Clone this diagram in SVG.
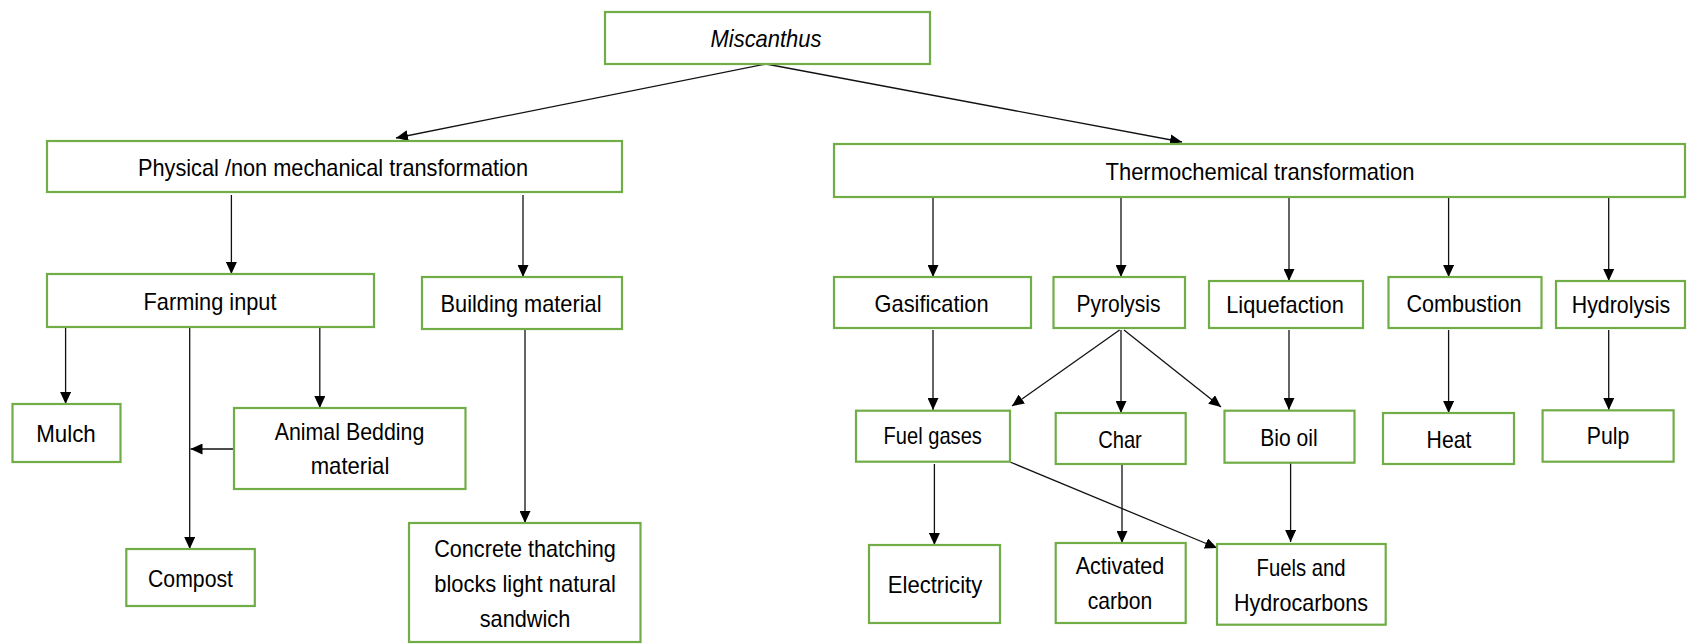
<svg xmlns="http://www.w3.org/2000/svg" width="1687" height="644" viewBox="0 0 1687 644">
<style>
.b{fill:#fff;stroke:#70AD47;stroke-width:2.2}
.t{font-family:"Liberation Sans",Arial,sans-serif;font-size:24px;fill:#000;text-anchor:middle}
.c line{stroke:#111;stroke-width:1.3;marker-end:url(#ah)}
</style>
<defs>
<marker id="ah" markerUnits="userSpaceOnUse" markerWidth="12" markerHeight="11" refX="12" refY="5.5" orient="auto"><path d="M0,0 L12,5.5 L0,11 z" fill="#000"/></marker>
</defs>
<rect width="1687" height="644" fill="#fff"/>
<g class="c" id="connectors">
<line x1="766" y1="64" x2="396" y2="138"/>
<line x1="766" y1="64" x2="1182" y2="142"/>
<line x1="231.4" y1="195" x2="231.4" y2="274"/>
<line x1="523" y1="195" x2="523" y2="277"/>
<line x1="933" y1="197" x2="933" y2="277"/>
<line x1="1121" y1="197" x2="1121" y2="277"/>
<line x1="1289" y1="197" x2="1289" y2="281"/>
<line x1="1448.6" y1="197" x2="1448.6" y2="277"/>
<line x1="1608.7" y1="197" x2="1608.7" y2="281"/>
<line x1="65.6" y1="327" x2="65.6" y2="404"/>
<line x1="189.7" y1="327" x2="189.7" y2="549"/>
<line x1="319.8" y1="327" x2="319.8" y2="408"/>
<line x1="234" y1="449" x2="190.5" y2="449"/>
<line x1="525" y1="330" x2="525" y2="523"/>
<line x1="933" y1="330" x2="933" y2="410"/>
<line x1="1119.6" y1="330" x2="1012" y2="406"/>
<line x1="1121" y1="330" x2="1121" y2="413"/>
<line x1="1124" y1="330" x2="1221" y2="407"/>
<line x1="1289" y1="330" x2="1289" y2="410"/>
<line x1="1448.6" y1="330" x2="1448.6" y2="413"/>
<line x1="1608.7" y1="330" x2="1608.7" y2="410"/>
<line x1="934.4" y1="464" x2="934.4" y2="545"/>
<line x1="1122" y1="464" x2="1122" y2="543"/>
<line x1="1010" y1="462" x2="1217" y2="548"/>
<line x1="1290.6" y1="463" x2="1290.6" y2="542"/>
</g>
<g id="miscanthus"><rect class="b" x="605" y="12" width="325" height="52"/><text class="t" x="766" y="46.7" font-style="italic" textLength="111" lengthAdjust="spacingAndGlyphs">Miscanthus</text></g>
<g id="physical"><rect class="b" x="47" y="141" width="575" height="51"/><text class="t" x="333" y="176" textLength="390" lengthAdjust="spacingAndGlyphs">Physical /non mechanical transformation</text></g>
<g id="thermochemical"><rect class="b" x="834" y="144" width="851" height="53"/><text class="t" x="1260" y="180" textLength="309" lengthAdjust="spacingAndGlyphs">Thermochemical transformation</text></g>
<g id="farming"><rect class="b" x="47" y="274" width="327" height="53"/><text class="t" x="210" y="310" textLength="133" lengthAdjust="spacingAndGlyphs">Farming input</text></g>
<g id="building"><rect class="b" x="422" y="277" width="200" height="52"/><text class="t" x="521" y="311.7" textLength="161" lengthAdjust="spacingAndGlyphs">Building material</text></g>
<g id="gasification"><rect class="b" x="834" y="277" width="197" height="51"/><text class="t" x="931.6" y="311.7" textLength="114" lengthAdjust="spacingAndGlyphs">Gasification</text></g>
<g id="pyrolysis"><rect class="b" x="1053.5" y="277" width="131.5" height="51"/><text class="t" x="1118.5" y="311.7" textLength="84" lengthAdjust="spacingAndGlyphs">Pyrolysis</text></g>
<g id="liquefaction"><rect class="b" x="1209" y="281" width="154" height="47"/><text class="t" x="1285" y="313.3" textLength="117.5" lengthAdjust="spacingAndGlyphs">Liquefaction</text></g>
<g id="combustion"><rect class="b" x="1388.5" y="277" width="153" height="51"/><text class="t" x="1464" y="311.7" textLength="115" lengthAdjust="spacingAndGlyphs">Combustion</text></g>
<g id="hydrolysis"><rect class="b" x="1556" y="281" width="129" height="47"/><text class="t" x="1621" y="313.3" textLength="98.4" lengthAdjust="spacingAndGlyphs">Hydrolysis</text></g>
<g id="mulch"><rect class="b" x="12.5" y="404" width="108" height="58"/><text class="t" x="66" y="442.3" textLength="59.6" lengthAdjust="spacingAndGlyphs">Mulch</text></g>
<g id="animal"><rect class="b" x="234" y="408" width="231.5" height="81"/><text class="t" x="349.5" y="440" textLength="149.6" lengthAdjust="spacingAndGlyphs">Animal Bedding</text><text class="t" x="350" y="474.3" textLength="78.6" lengthAdjust="spacingAndGlyphs">material</text></g>
<g id="compost"><rect class="b" x="126.3" y="549" width="128.5" height="57"/><text class="t" x="190.5" y="586.7" textLength="85" lengthAdjust="spacingAndGlyphs">Compost</text></g>
<g id="concrete"><rect class="b" x="409" y="523" width="231.5" height="119"/><text class="t" x="525" y="557.3" textLength="181.6" lengthAdjust="spacingAndGlyphs">Concrete thatching</text><text class="t" x="525" y="591.7" textLength="181.6" lengthAdjust="spacingAndGlyphs">blocks light natural</text><text class="t" x="525" y="626.7" textLength="90.5" lengthAdjust="spacingAndGlyphs">sandwich</text></g>
<g id="fuelgases"><rect class="b" x="856" y="410.7" width="154" height="51"/><text class="t" x="932.7" y="444.3" textLength="98.4" lengthAdjust="spacingAndGlyphs">Fuel gases</text></g>
<g id="char"><rect class="b" x="1055.7" y="413" width="130" height="51"/><text class="t" x="1120" y="447.7" textLength="43.7" lengthAdjust="spacingAndGlyphs">Char</text></g>
<g id="biooil"><rect class="b" x="1224.5" y="410.7" width="130" height="52"/><text class="t" x="1289" y="445.7" textLength="57.4" lengthAdjust="spacingAndGlyphs">Bio oil</text></g>
<g id="heat"><rect class="b" x="1383" y="413" width="131" height="51"/><text class="t" x="1449" y="447.7" textLength="44.8" lengthAdjust="spacingAndGlyphs">Heat</text></g>
<g id="pulp"><rect class="b" x="1542.6" y="410.3" width="131" height="51.4"/><text class="t" x="1608" y="444.3" textLength="42.6" lengthAdjust="spacingAndGlyphs">Pulp</text></g>
<g id="electricity"><rect class="b" x="869" y="545" width="131" height="78"/><text class="t" x="935" y="593.3" textLength="94.5" lengthAdjust="spacingAndGlyphs">Electricity</text></g>
<g id="activated"><rect class="b" x="1055.7" y="543" width="130" height="80"/><text class="t" x="1120" y="574.3" textLength="88.5" lengthAdjust="spacingAndGlyphs">Activated</text><text class="t" x="1120" y="609" textLength="64.5" lengthAdjust="spacingAndGlyphs">carbon</text></g>
<g id="fuels"><rect class="b" x="1217" y="544" width="168.7" height="80.7"/><text class="t" x="1301" y="575.7" textLength="89" lengthAdjust="spacingAndGlyphs">Fuels and</text><text class="t" x="1301" y="611" textLength="134" lengthAdjust="spacingAndGlyphs">Hydrocarbons</text></g>
</svg>
